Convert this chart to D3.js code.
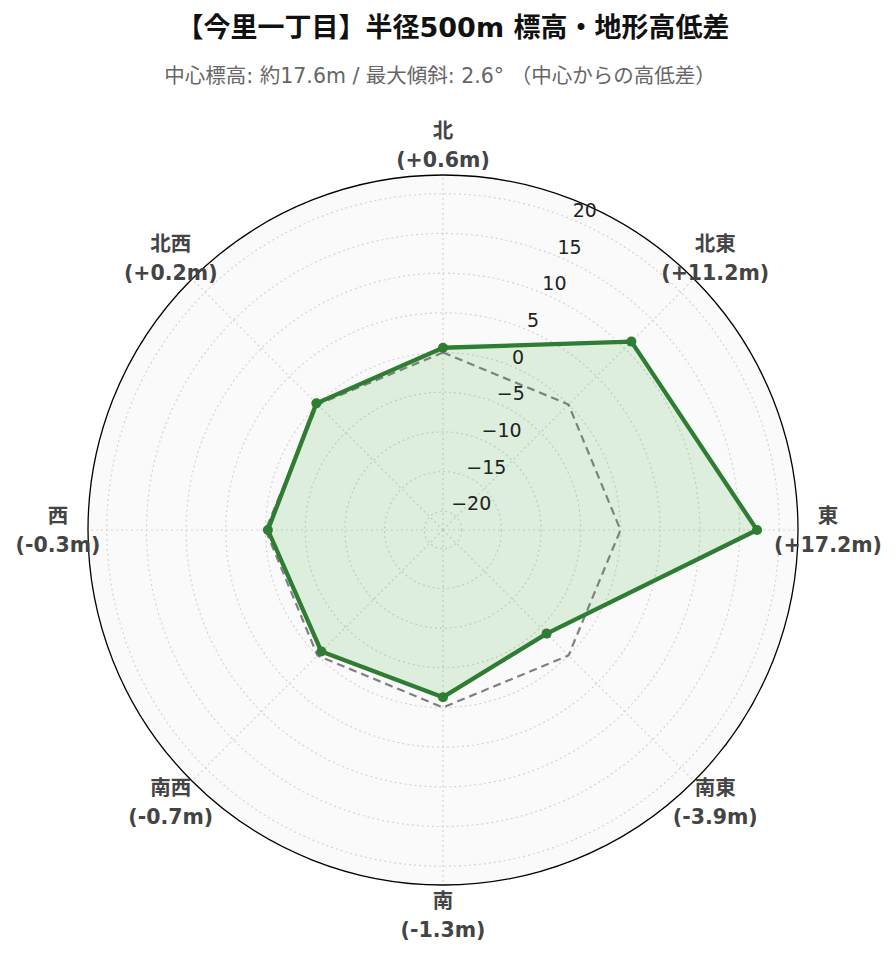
<!DOCTYPE html>
<html><head><meta charset="utf-8">
<script src="https://cdn.jsdelivr.net/npm/d3@7"></script>
<style>body{margin:0;background:#fff;}svg{display:block;}</style>
</head><body>
<script>
const directions = ["北","北東","東","南東","南","南西","西","北西"];
const values = [0.6, 11.2, 17.2, -3.9, -1.3, -0.7, -0.3, 0.2];
const baseline = [0, 0, 0, 0, 0, 0, 0, 0];
const tickValues = [-20, -15, -10, -5, 0, 5, 10, 15, 20];
const rangeMax = 22.36;
const titleText = "【今里一丁目】半径500m 標高・地形高低差";
const subtitleText = "中心標高: 約17.6m / 最大傾斜: 2.6° （中心からの高低差）";

const W = 896, H = 962, cx = 443, cy = 530, R = 355;
const font = "'DejaVu Sans','Noto Sans CJK JP',sans-serif";
const svg = d3.select("body").append("svg").attr("width", W).attr("height", H);

svg.append("text").attr("x", 453).attr("y", 37).attr("text-anchor","middle")
  .attr("font-family", font).attr("font-weight","bold").attr("font-size", 27).attr("fill","#111").text(titleText);
svg.append("text").attr("x", 440).attr("y", 83).attr("text-anchor","middle")
  .attr("font-family", font).attr("font-size", 20.5).attr("fill","#666").text(subtitleText);

const r = d3.scaleLinear().domain([-rangeMax, rangeMax]).range([0, R]);
const ang = d3.scalePoint().domain(directions).range([0, 2*Math.PI*(7/8)]);
const g = svg.append("g").attr("transform", `translate(${cx},${cy})`);

g.append("circle").attr("r", R).attr("fill", "#fafafa");
tickValues.forEach(t => {
  g.append("circle").attr("r", r(t)).attr("fill","none").attr("stroke","#d4d4d4")
    .attr("stroke-width",1.2).attr("stroke-dasharray","2,3");
});
directions.forEach(d => {
  const a = ang(d);
  g.append("line").attr("x1",0).attr("y1",0).attr("x2",R*Math.sin(a)).attr("y2",-R*Math.cos(a))
    .attr("stroke","#d4d4d4").attr("stroke-width",1.2).attr("stroke-dasharray","2,3");
});

const data = directions.map((d,i)=>({d, v: values[i], b: baseline[i]}));
const lineV = d3.lineRadial().angle(p=>ang(p.d)).radius(p=>r(p.v)).curve(d3.curveLinearClosed);
const lineB = d3.lineRadial().angle(p=>ang(p.d)).radius(p=>r(p.b)).curve(d3.curveLinearClosed);

g.append("path").attr("d", lineV(data)).attr("fill","rgba(76,175,80,0.17)").attr("stroke","none");
g.append("path").attr("d", lineB(data)).attr("fill","none").attr("stroke","#808080")
  .attr("stroke-width",2.2).attr("stroke-dasharray","8,5");
g.append("path").attr("d", lineV(data)).attr("fill","none").attr("stroke","#2e7d32")
  .attr("stroke-width",4.3).attr("stroke-linejoin","round");
g.selectAll("circle.pt").data(data).enter().append("circle").attr("class","pt")
  .attr("cx", p=>r(p.v)*Math.sin(ang(p.d))).attr("cy", p=>-r(p.v)*Math.cos(ang(p.d)))
  .attr("r",5).attr("fill","#2e7d32");

g.append("circle").attr("r", R).attr("fill","none").attr("stroke","#000").attr("stroke-width",1.3);

const ta = Math.PI/8;
tickValues.forEach(t => {
  const x = r(t)*Math.sin(ta), y = -r(t)*Math.cos(ta);
  g.append("text").attr("x", x+1).attr("y", y-9).attr("dy","0.35em")
    .attr("font-family", font).attr("font-size", 19).attr("fill","#222")
    .text(t < 0 ? "\u2212" + Math.abs(t) : String(t));
});

const LR = 385;
data.forEach(p => {
  const a = ang(p.d);
  const x = LR*Math.sin(a), y = -LR*Math.cos(a);
  const t = g.append("text").attr("text-anchor","middle").attr("font-family", font)
    .attr("font-weight","bold").attr("font-size", 20.5).attr("fill","#444");
  t.append("tspan").attr("x", x).attr("y", y-14).attr("dy","0.35em").text(p.d);
  const s = (p.v >= 0 ? "+" : "-") + Math.abs(p.v).toFixed(1) + "m";
  t.append("tspan").attr("x", x).attr("y", y+15).attr("dy","0.35em").text("(" + s + ")");
});
</script>
</body></html>
